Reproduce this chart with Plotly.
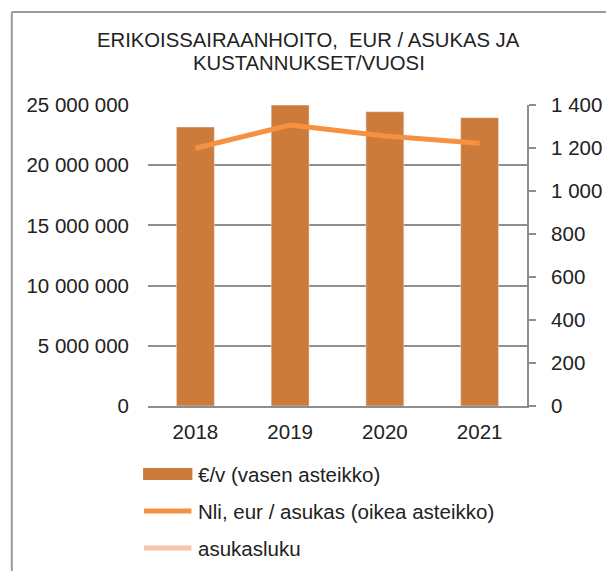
import plotly.graph_objects as go

years = ["2018", "2019", "2020", "2021"]
costs = [23170000, 25000000, 24440000, 23950000]
eur_per_res = [1199, 1307, 1256, 1222]
legend_labels = ["€/v (vasen asteikko)", "Nli, eur / asukas (oikea asteikko)", "asukasluku"]
title_lines = ["ERIKOISSAIRAANHOITO,\u00a0\u00a0EUR / ASUKAS JA", "KUSTANNUKSET/VUOSI"]

BAR_C = "#CD7B3A"
LINE_C = "#F79142"
PALE_C = "#F8C4AA"
GRID_C = "#8E8E8E"
TXT_C = "#222222"
FONT = "Liberation Sans, Arial, sans-serif"
FS = 20.5

# The page body has an 8px margin; work in screen pixels and offset the figure.
OFF = 8
SW, SH = 614, 571
W, H = SW - OFF, SH - OFF
L, R, T, B = 148, 532, 105, 406  # plot area in screen px


def px(x):
    return (x - L) / (R - L)


def py(y):
    return (B - y) / (B - T)


fig = go.Figure()
fig.add_trace(go.Bar(x=years, y=costs, marker_color=BAR_C, name=legend_labels[0],
                     showlegend=False))
fig.add_trace(go.Scatter(x=years, y=eur_per_res, yaxis="y2", mode="lines",
                         line=dict(color=LINE_C, width=5), name=legend_labels[1],
                         showlegend=False))

shapes = [
    dict(type="line", xref="paper", yref="paper", x0=px(10), x1=px(SW + 5), y0=py(12), y1=py(12),
         line=dict(color="#9A9A9A", width=2)),
    dict(type="line", xref="paper", yref="paper", x0=px(10), x1=px(10), y0=py(12), y1=py(SH + 5),
         line=dict(color="#9A9A9A", width=2)),
    dict(type="rect", xref="paper", yref="paper", x0=px(143), x1=px(193), y0=py(468), y1=py(480),
         fillcolor=BAR_C, line=dict(width=0)),
    dict(type="line", xref="paper", yref="paper", x0=px(144), x1=px(192), y0=py(511), y1=py(511),
         line=dict(color=LINE_C, width=5)),
    dict(type="line", xref="paper", yref="paper", x0=px(144), x1=px(192), y0=py(548), y1=py(548),
         line=dict(color=PALE_C, width=5)),
]
annotations = []
for lab, yy in zip(legend_labels, [474, 511, 548]):
    annotations.append(dict(text=lab, xref="paper", yref="paper", x=px(197), y=py(yy),
                            xanchor="left", yanchor="middle", showarrow=False,
                            font=dict(size=FS, color=TXT_C, family=FONT)))
for line, yy in zip(title_lines, [40, 63]):
    annotations.append(dict(text=line, xref="paper", yref="paper", x=px(311), y=py(yy),
                            xanchor="center", yanchor="middle", showarrow=False,
                            font=dict(size=20.3, color=TXT_C, family=FONT)))

fig.update_layout(
    width=W, height=H,
    margin=dict(l=L - OFF, r=W - (R - OFF), t=T - OFF, b=H - (B - OFF)),
    paper_bgcolor="white", plot_bgcolor="white",
    separators=", ",
    bargap=0.6,
    font=dict(family=FONT, size=FS, color=TXT_C),
    xaxis=dict(showline=True, linecolor=GRID_C, linewidth=2, ticks="", showgrid=False,
               tickfont=dict(size=FS), ticklabelstandoff=6),
    yaxis=dict(range=[0, 25000000], dtick=5000000, tickformat=",d", showgrid=True,
               gridcolor=GRID_C, gridwidth=2, zeroline=False, showline=False, ticks="",
               tickfont=dict(size=FS), ticklabelstandoff=18),
    yaxis2=dict(range=[0, 1400], dtick=200, tickformat=",d", overlaying="y", side="right",
                showgrid=False, zeroline=False, showline=True, linecolor=GRID_C, linewidth=2,
                ticks="outside", ticklen=7, tickcolor=GRID_C, tickwidth=2,
                tickfont=dict(size=FS), ticklabelstandoff=11),
    shapes=shapes,
    annotations=annotations,
)

fig.write_html("out.html")
